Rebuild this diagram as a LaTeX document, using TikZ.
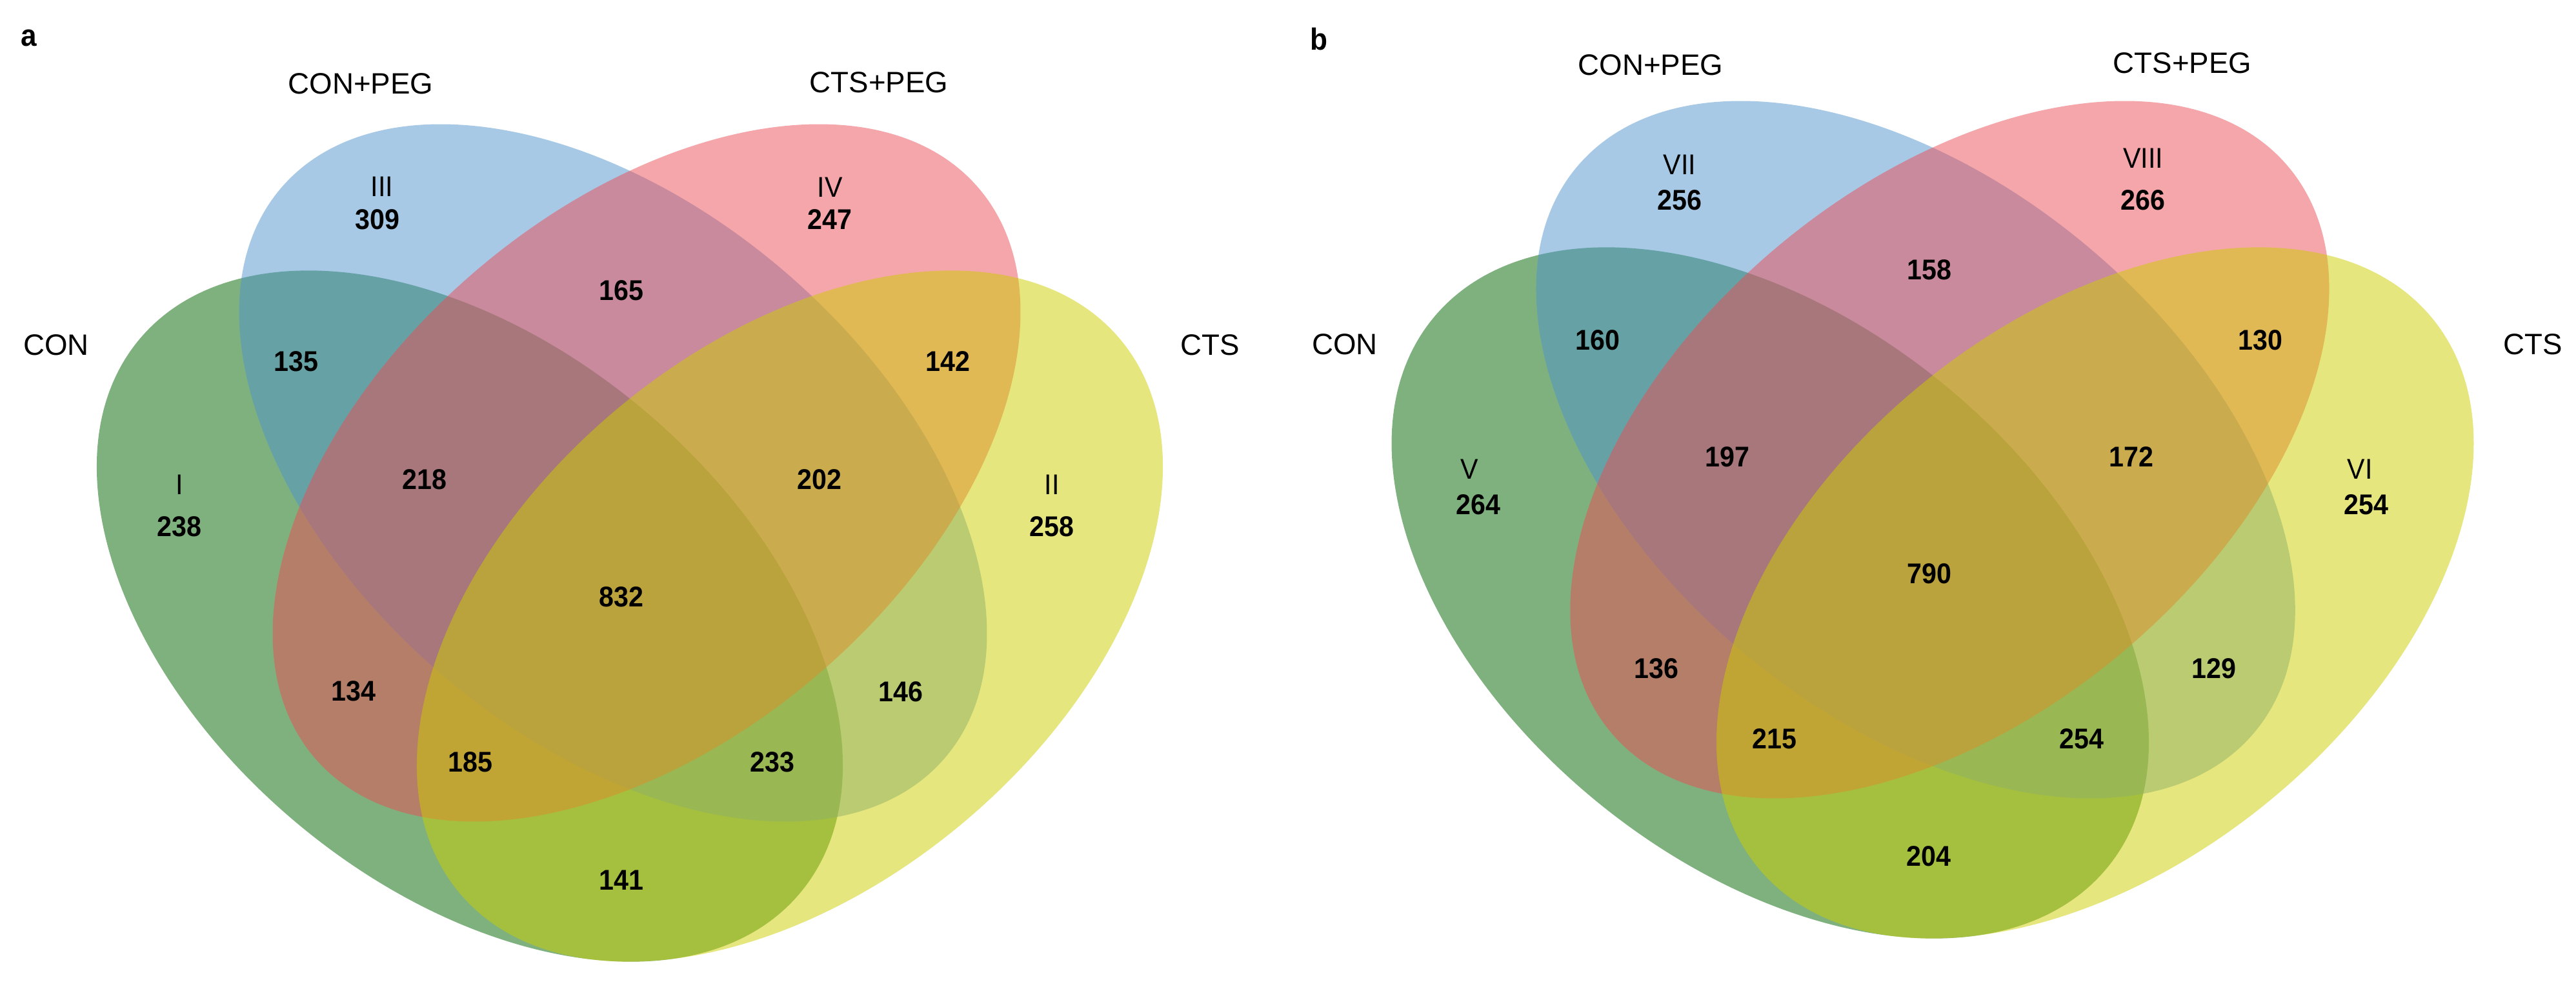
\documentclass[tikz,border=0pt]{standalone}
\usepackage{fontspec}
\setmainfont{Liberation Sans}
\newfontfamily\narrowfont[FakeStretch=0.93]{Liberation Sans}
\usepackage{tikz}
\usetikzlibrary{positioning}

\definecolor{conc}{RGB}{0,100,0}
\definecolor{conpegc}{RGB}{79,148,205}
\definecolor{ctspegc}{RGB}{235,77,85}
\definecolor{ctsc}{RGB}{205,205,0}

% the four ellipses of one panel, centred on its axis
\newcommand{\fourset}{%
\fill[conc,fill opacity=0.5,shift={(-2.48,5.77)},rotate=-40] (0,0) ellipse (6.68 and 4.18);
\fill[conpegc,fill opacity=0.5,shift={(-0.26,7.99)},rotate=-40.7] (0,0) ellipse (6.78 and 4.10);
\fill[ctspegc,fill opacity=0.5,shift={(0.26,7.99)},rotate=40.7] (0,0) ellipse (6.78 and 4.10);
\fill[ctsc,fill opacity=0.5,shift={(2.48,5.77)},rotate=40] (0,0) ellipse (6.68 and 4.18);
}

\begin{document}
\begin{tikzpicture}
\tikzstyle{setlab}=[inner sep=0pt,font=\fontsize{13}{15}\selectfont]
\tikzstyle{num}=[inner sep=0pt,font=\narrowfont\bfseries\fontsize{12.6}{14}\selectfont]
\tikzstyle{roman}=[inner sep=0pt,font=\narrowfont\fontsize{12.6}{14}\selectfont]
\tikzstyle{panel}=[inner sep=0pt,font=\narrowfont\bfseries\fontsize{13.5}{15}\selectfont]
\useasboundingbox (0,0) rectangle (39.92,15.32);

% panel a
\begin{scope}[shift={(9.76,0)}]
\fourset
\end{scope}
\node[panel] (pa) at (0.45,14.73) {a};
\node[setlab] (acon) at (0.87,9.97) {CON};
\node[setlab] (aconpeg) at (5.59,14.02) {CON+PEG};
\node[setlab] (actspeg) at (13.62,14.04) {CTS+PEG};
\node[setlab] (acts) at (18.75,9.97) {CTS};
\node[num] (a309) at (5.85,11.92) {309};
\node[roman,above=0.18 of a309,xshift=0.07cm] (aIII) {III};
\node[num] (a247) at (12.86,11.92) {247};
\node[roman,above=0.18 of a247] (aIV) {IV};
\node[num] (a165) at (9.63,10.82) {165};
\node[num] (a135) at (4.59,9.72) {135};
\node[num] (a142) at (14.69,9.72) {142};
\node[num] (a238) at (2.78,7.16) {238};
\node[roman,above=0.32 of a238] (aI) {I};
\node[num] (a218) at (6.58,7.89) {218};
\node[num] (a202) at (12.70,7.89) {202};
\node[num] (a258) at (16.30,7.16) {258};
\node[roman,above=0.32 of a258] (aII) {II};
\node[num] (a832) at (9.63,6.07) {832};
\node[num] (a134) at (5.48,4.61) {134};
\node[num] (a146) at (13.96,4.60) {146};
\node[num] (a185) at (7.29,3.51) {185};
\node[num] (a233) at (11.97,3.51) {233};
\node[num] (a141) at (9.63,1.68) {141};

% panel b
\begin{scope}[shift={(29.95,0.36)},xscale=1.015]
\fourset
\end{scope}
\node[panel] (pb) at (20.44,14.71) {b};
\node[setlab] (bcon) at (20.84,9.98) {CON};
\node[setlab] (bconpeg) at (25.58,14.31) {CON+PEG};
\node[setlab] (bctspeg) at (33.82,14.34) {CTS+PEG};
\node[setlab] (bcts) at (39.25,9.98) {CTS};
\node[num] (b256) at (26.03,12.22) {256};
\node[roman,above=0.22 of b256] (bVII) {VII};
\node[num] (b266) at (33.21,12.22) {266};
\node[roman,above=0.32 of b266] (bVIII) {VIII};
\node[num] (b158) at (29.90,11.14) {158};
\node[num] (b160) at (24.76,10.05) {160};
\node[num] (b130) at (35.03,10.05) {130};
\node[num] (b264) at (22.91,7.50) {264};
\node[roman,above=0.22 of b264,xshift=-0.14cm] (bV) {V};
\node[num] (b197) at (26.77,8.24) {197};
\node[num] (b172) at (33.03,8.24) {172};
\node[num] (b254a) at (36.67,7.50) {254};
\node[roman,above=0.22 of b254a,xshift=-0.10cm] (bVI) {VI};
\node[num] (b790) at (29.90,6.43) {790};
\node[num] (b136) at (25.67,4.96) {136};
\node[num] (b129) at (34.31,4.96) {129};
\node[num] (b215) at (27.50,3.87) {215};
\node[num] (b254b) at (32.26,3.87) {254};
\node[num] (b204) at (29.89,2.05) {204};
\end{tikzpicture}
\end{document}
